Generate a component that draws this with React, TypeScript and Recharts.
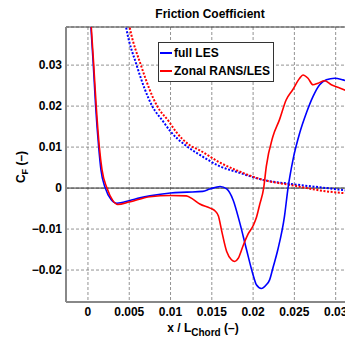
import React from "react";
import {
  LineChart, Line, XAxis, YAxis, CartesianGrid, ReferenceLine
} from "recharts";

// full LES (solid blue)
const fullLesX = [0.0003, 0.00036, 0.00065, 0.00093, 0.0013, 0.00157, 0.0021, 0.0028, 0.0035, 0.005, 0.0063, 0.0075, 0.01, 0.012, 0.0139, 0.01476, 0.016, 0.0168, 0.01758, 0.01839, 0.0192, 0.02, 0.0204, 0.021, 0.0216, 0.022, 0.0224, 0.023, 0.0238, 0.02423, 0.02483, 0.02564, 0.02645, 0.02725, 0.02806, 0.02887, 0.02988, 0.03088, 0.03206];
const fullLesY = [0.041, 0.0393, 0.03, 0.02, 0.01, 0.0045, 0.0, -0.0028, -0.0037, -0.0031, -0.0024, -0.0019, -0.0012, -0.001, -0.0008, -0.00025, 0.0004, -0.0002, -0.0029, -0.0085, -0.015, -0.0212, -0.0236, -0.0245, -0.0236, -0.0224, -0.0195, -0.015, -0.0069, 0.0, 0.0069, 0.0134, 0.0183, 0.0223, 0.0252, 0.0264, 0.0268, 0.0264, 0.0256];

// Zonal RANS/LES (solid red)
const zonalX = [0.00035, 0.0004, 0.0007, 0.001, 0.00138, 0.0017, 0.0023, 0.003, 0.0036, 0.005, 0.0075, 0.01, 0.0119, 0.0127, 0.01355, 0.0148, 0.0154, 0.0158, 0.0162, 0.0168, 0.01738, 0.01778, 0.01818, 0.0188, 0.0194, 0.02, 0.0204, 0.0208, 0.02128, 0.0216, 0.0224, 0.0232, 0.024, 0.0248, 0.02564, 0.02604, 0.02665, 0.02725, 0.02786, 0.02866, 0.02947, 0.03048, 0.03206];
const zonalY = [0.041, 0.0393, 0.03, 0.02, 0.01, 0.0045, 0.0, -0.003, -0.004, -0.0034, -0.0021, -0.0018, -0.0019, -0.0027, -0.0039, -0.0049, -0.0056, -0.0068, -0.0105, -0.0155, -0.0175, -0.0179, -0.0172, -0.014, -0.0112, -0.0092, -0.0072, -0.004, 0.0, 0.0053, 0.0126, 0.0167, 0.0215, 0.024, 0.0268, 0.0276, 0.0268, 0.0252, 0.0256, 0.0262, 0.0252, 0.0244, 0.0232];

// dotted blue
const dotBlueX = [0.00455, 0.00468, 0.00589, 0.00778, 0.00911, 0.01, 0.01173, 0.01355, 0.016, 0.0184, 0.0212, 0.0244, 0.0289, 0.0321];
const dotBlueY = [0.04, 0.0386, 0.03, 0.02, 0.01624, 0.0138, 0.01056, 0.0081, 0.0053, 0.0037, 0.002, 0.00105, 0.0, -0.0008];

// dotted red
const dotRedX = [0.00498, 0.00508, 0.00641, 0.00838, 0.0098, 0.01064, 0.01225, 0.01355, 0.016, 0.0184, 0.0212, 0.0244, 0.0289, 0.0321];
const dotRedY = [0.04, 0.039, 0.03, 0.02, 0.01624, 0.0138, 0.01056, 0.0092, 0.0062, 0.004, 0.002, 0.0008, -0.0008, -0.0014];

const xTicks = [0, 0.005, 0.01, 0.015, 0.02, 0.025, 0.03];
const yTicks = [-0.02, -0.01, 0, 0.01, 0.02, 0.03];

const xDomain = [-0.00266, 0.0321];
const yDomain = [-0.0278, 0.0393];

const zip = (xs: number[], ys: number[]) => xs.map((x, i) => ({ x, y: ys[i] }));

const FONT = "'Liberation Sans', Arial, Helvetica, sans-serif";

function LegendBox() {
  return (
    <div style={{
      position: "absolute", left: 150, top: 34,
      width: 116, height: 40, border: "1px solid #333", background: "#fff",
      fontFamily: FONT, fontWeight: "bold", fontSize: 12, color: "#000", boxSizing: "border-box"
    }}>
      {[{ c: "#0000ff", t: "full LES" }, { c: "#ff0000", t: "Zonal RANS/LES" }].map((e, i) => (
        <div key={i} style={{ display: "flex", alignItems: "center", height: 18, marginTop: i === 0 ? 1 : 0 }}>
          <div style={{ width: 12, height: 2, background: e.c, marginLeft: 1, marginRight: 2 }} />
          <span>{e.t}</span>
        </div>
      ))}
    </div>
  );
}

export default function App() {
  const fmt = (v: number) => (v < 0 ? "\u2212" + String(-v) : String(v));
  return (
    <div style={{ position: "relative", width: 345, height: 334, fontFamily: FONT }}>
      <LineChart width={345} height={334} margin={{ top: 19, right: 0, left: 8, bottom: 8 }}>
        <CartesianGrid strokeDasharray="3 2" stroke="#777" strokeWidth={0.8} />
        <XAxis
          type="number" dataKey="x" domain={xDomain} allowDataOverflow ticks={xTicks} interval={0}
          height={32} tickSize={0} tickMargin={5} tickLine={false}
          axisLine={{ stroke: "#888", strokeWidth: 2 }}
          tick={{ fill: "#000", fontSize: 12, fontWeight: "bold", fontFamily: FONT }}
          tickFormatter={fmt}
        />
        <YAxis
          type="number" dataKey="y" domain={yDomain} allowDataOverflow ticks={yTicks} interval={0}
          width={50} tickSize={0} tickMargin={4} tickLine={false}
          axisLine={{ stroke: "#888", strokeWidth: 2 }}
          tick={{ fill: "#000", fontSize: 12, fontWeight: "bold", fontFamily: FONT }}
          tickFormatter={fmt}
        />
        <ReferenceLine y={0} stroke="#333" strokeWidth={1} />
        <ReferenceLine y={yDomain[1]} stroke="#444" strokeWidth={1} />
        <Line data={zip(dotBlueX, dotBlueY)} dataKey="y" type="monotone" stroke="#0000ff" strokeWidth={2}
          strokeDasharray="2 1.6" dot={false} isAnimationActive={false} />
        <Line data={zip(dotRedX, dotRedY)} dataKey="y" type="monotone" stroke="#ff0000" strokeWidth={2}
          strokeDasharray="2 1.6" dot={false} isAnimationActive={false} />
        <Line data={zip(fullLesX, fullLesY)} dataKey="y" name="full LES" type="monotone" stroke="#0000ff"
          strokeWidth={1.6} dot={false} isAnimationActive={false} />
        <Line data={zip(zonalX, zonalY)} dataKey="y" name="Zonal RANS/LES" type="monotone" stroke="#ff0000"
          strokeWidth={1.6} dot={false} isAnimationActive={false} />
      </LineChart>
      <svg width={345} height={334} style={{ position: "absolute", left: 0, top: 0, pointerEvents: "none", overflow: "visible" }}
        fontFamily={FONT} fontWeight="bold" fill="#000">
        <text x={202} y={10} textAnchor="middle" fontSize={12}>Friction Coefficient</text>
        <text transform="translate(17,159) rotate(-90)" textAnchor="middle" fontSize={12}>
          C<tspan fontSize={9} dy={3}>F</tspan><tspan dy={-3}> (–)</tspan>
        </text>
        <text x={195} y={324} textAnchor="middle" fontSize={12}>
          x / L<tspan fontSize={10} dy={4}>Chord</tspan><tspan dy={-4}> (–)</tspan>
        </text>
      </svg>
      <LegendBox />
    </div>
  );
}
